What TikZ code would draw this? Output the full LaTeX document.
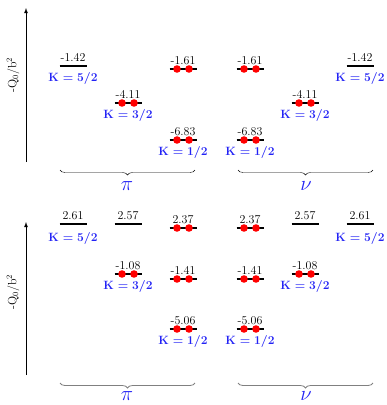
\documentclass[tikz,border=0pt]{standalone}
\usetikzlibrary{decorations.pathreplacing}
\definecolor{kblue}{RGB}{35,35,245}
\begin{document}
\begin{tikzpicture}[x=1pt,y=-1pt,
  lvl/.style={line width=1.6pt},
  dot/.style={circle,fill=red,inner sep=0pt,minimum size=7.6pt},
  num/.style={anchor=base,inner sep=0pt,font=\fontsize{12}{14}\selectfont,yshift=5pt},
  klab/.style={text=kblue,font=\fontsize{11.5}{13}\selectfont\boldmath},
  nuc/.style={text=kblue,inner sep=0pt,font=\fontsize{22}{24}\selectfont},
  brc/.style={decorate,decoration={brace,amplitude=5pt,mirror}},
  axis/.style={-latex,thick}]
\useasboundingbox (0,0) rectangle (387,405);
\tikzset{
  empty/.pic={\draw[lvl] (-13.5,0) -- (13.5,0);},
  full/.pic={\draw[lvl] (-13.5,0) -- (13.5,0);
             \node[dot] at (-6,0) {}; \node[dot] at (6,0) {};}
}
% ================= TOP =================
\coordinate (tA0) at (26,162); \coordinate (tA1) at (26,8);
\draw[axis] (tA0) -- (tA1);
\node[rotate=90,font=\fontsize{12}{14}\selectfont] (tax) at (13,75) {-Q$_0$/b$^2$};
% pi
\coordinate (p52) at (73,66);  \pic at (p52) {empty};
\node[num] at (p52) {-1.42}; \node[klab] at (73,78) {$\mathbf{K=5/2}$};
\coordinate (p32) at (128,103); \pic at (p32) {full};
\node[num] at (p32) {-4.11}; \node[klab] at (128,115) {$\mathbf{K=3/2}$};
\coordinate (p12a) at (183,69); \pic at (p12a) {full};
\node[num] at (p12a) {-1.61};
\coordinate (p12b) at (183,140); \pic at (p12b) {full};
\node[num] at (p12b) {-6.83}; \node[klab] at (183,152) {$\mathbf{K=1/2}$};
\coordinate (tpb0) at (60,170); \coordinate (tpb1) at (195,170);
\draw[brc] (tpb0) -- (tpb1);
\node[nuc] at (127,186) {$\pi$};
% nu
\coordinate (n12a) at (250,69); \pic at (n12a) {full};
\node[num] at (n12a) {-1.61};
\coordinate (n12b) at (250,140); \pic at (n12b) {full};
\node[num] at (n12b) {-6.83}; \node[klab] at (250,152) {$\mathbf{K=1/2}$};
\coordinate (n32) at (305,103); \pic at (n32) {full};
\node[num] at (n32) {-4.11}; \node[klab] at (305,115) {$\mathbf{K=3/2}$};
\coordinate (n52) at (360,66); \pic at (n52) {empty};
\node[num] at (n52) {-1.42}; \node[klab] at (360,78) {$\mathbf{K=5/2}$};
\coordinate (tnb0) at (238,170); \coordinate (tnb1) at (373,170);
\draw[brc] (tnb0) -- (tnb1);
\node[nuc] at (306,186) {$\nu$};
% ================= BOTTOM =================
\coordinate (bA0) at (26,375); \coordinate (bA1) at (26,222);
\draw[axis] (bA0) -- (bA1);
\node[rotate=90,font=\fontsize{12}{14}\selectfont] (bax) at (13,292) {-Q$_0$/b$^2$};
% pi
\coordinate (q52) at (73,224); \pic at (q52) {empty};
\node[num] at (q52) {2.61}; \node[klab] at (73,238) {$\mathbf{K=5/2}$};
\coordinate (q52b) at (128,224); \pic at (q52b) {empty};
\node[num] at (q52b) {2.57};
\coordinate (q32) at (128,274); \pic at (q32) {full};
\node[num] at (q32) {-1.08}; \node[klab] at (128,286) {$\mathbf{K=3/2}$};
\coordinate (q12a) at (183,228); \pic at (q12a) {full};
\node[num] at (q12a) {2.37};
\coordinate (q12b) at (183,279); \pic at (q12b) {full};
\node[num] at (q12b) {-1.41};
\coordinate (q12c) at (183,329); \pic at (q12c) {full};
\node[num] at (q12c) {-5.06}; \node[klab] at (183,341) {$\mathbf{K=1/2}$};
\coordinate (bpb0) at (60,383); \coordinate (bpb1) at (195,383);
\draw[brc,gray,thick] (bpb0) -- (bpb1);
\node[nuc] at (127,396) {$\pi$};
% nu
\coordinate (m12a) at (250,228); \pic at (m12a) {full};
\node[num] at (m12a) {2.37};
\coordinate (m12b) at (250,279); \pic at (m12b) {full};
\node[num] at (m12b) {-1.41};
\coordinate (m12c) at (250,329); \pic at (m12c) {full};
\node[num] at (m12c) {-5.06}; \node[klab] at (250,341) {$\mathbf{K=1/2}$};
\coordinate (m32b) at (305,224); \pic at (m32b) {empty};
\node[num] at (m32b) {2.57};
\coordinate (m32) at (305,274); \pic at (m32) {full};
\node[num] at (m32) {-1.08}; \node[klab] at (305,286) {$\mathbf{K=3/2}$};
\coordinate (m52) at (360,224); \pic at (m52) {empty};
\node[num] at (m52) {2.61}; \node[klab] at (360,238) {$\mathbf{K=5/2}$};
\coordinate (bnb0) at (238,383); \coordinate (bnb1) at (373,383);
\draw[brc,gray,thick] (bnb0) -- (bnb1);
\node[nuc] at (306,396) {$\nu$};
\end{tikzpicture}
\end{document}
